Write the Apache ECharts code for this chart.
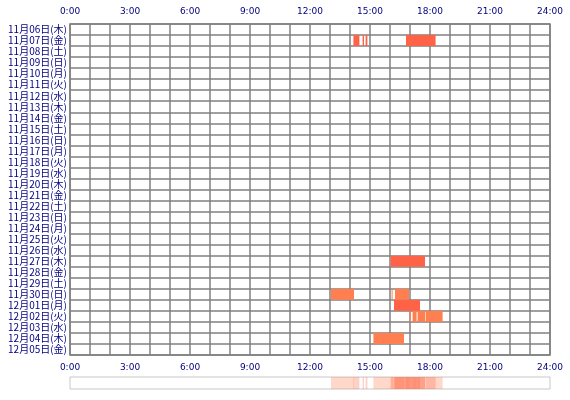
<!DOCTYPE html>
<html><head><meta charset="utf-8">
<script src="https://cdn.jsdelivr.net/npm/echarts@6/dist/echarts.min.js"></script>
<style>html,body{margin:0;padding:0;background:#fff}#c{width:570px;height:400px}</style>
</head><body><div id="c"></div>
<script>
const days = ['11月06日(木)','11月07日(金)','11月08日(土)','11月09日(日)','11月10日(月)','11月11日(火)','11月12日(水)','11月13日(木)','11月14日(金)','11月15日(土)','11月16日(日)','11月17日(月)','11月18日(火)','11月19日(水)','11月20日(木)','11月21日(金)','11月22日(土)','11月23日(日)','11月24日(月)','11月25日(火)','11月26日(水)','11月27日(木)','11月28日(金)','11月29日(土)','11月30日(日)','12月01日(月)','12月02日(火)','12月03日(水)','12月04日(木)','12月05日(金)'];
// [day index, start hour, end hour, colour]
const segments = [
  [1,14.17,14.47,'#ff6347'],[1,14.63,14.70,'#ff6347'],[1,14.78,14.87,'#ff6347'],[1,16.8,18.28,'#ff6347'],
  [21,16.03,17.75,'#ff6347'],
  [24,13.05,14.2,'#ff7f50'],[24,16.08,16.13,'#ff7f50'],[24,16.25,16.95,'#ff7f50'],
  [25,16.2,17.5,'#ff6347'],
  [26,16.97,17.03,'#ff7f50'],[26,17.13,17.33,'#ff7f50'],[26,17.38,17.77,'#ff7f50'],[26,17.8,18.63,'#ff7f50'],
  [28,15.17,16.7,'#ff7f50']
];
const hourLabel = v => Math.round(v) + ':00';

function render(params, api){
  const a = api.coord([api.value(1), api.value(0)]);
  const b = api.coord([api.value(2), api.value(0)]);
  const h = api.size([0,1])[1];
  return {type:'rect', shape:{x:a[0], y:a[1]-h/2, width:b[0]-a[0], height:h},
    style:{fill:api.value(3), opacity: params.seriesIndex === 0 ? 1 : 0.3}};
}

const chart = echarts.init(document.getElementById('c'));
const axisLabel = {color:'#000080', fontSize:9, fontFamily:'DejaVu Sans', formatter:hourLabel};
chart.setOption({
  animation:false,
  grid:[{left:70,right:20,top:24,bottom:45},{left:70,right:20,top:377,bottom:11}],
  xAxis:[
    {gridIndex:0,type:'value',min:0,max:24,interval:3,position:'top',axisLabel:axisLabel,axisLine:{show:false},axisTick:{show:false},splitLine:{show:false}},
    {gridIndex:0,type:'value',min:0,max:24,interval:1,position:'bottom',axisLabel:{...axisLabel,formatter:v=>v%3===0?hourLabel(v):''},axisLine:{show:false},axisTick:{show:false},splitLine:{lineStyle:{color:'#808080',width:1.5}}},
    {gridIndex:1,type:'value',min:0,max:24,show:false}
  ],
  yAxis:[
    {gridIndex:0,type:'category',data:days,inverse:true,axisLabel:{color:'#000080',fontSize:10,fontFamily:'Noto Sans CJK JP',margin:3,interval:0},axisLine:{show:false},axisTick:{show:false},splitLine:{show:true,interval:0,lineStyle:{color:'#808080',width:1.5}}},
    {gridIndex:1,type:'category',data:['all'],show:false}
  ],
  series:[
    {type:'custom',xAxisIndex:0,yAxisIndex:0,renderItem:render,encode:{x:[1,2],y:0},data:segments},
    {type:'custom',xAxisIndex:2,yAxisIndex:1,renderItem:render,encode:{x:[1,2],y:0},data:segments.map(s=>[0,s[1],s[2],s[3]])}
  ],
  graphic:[
    {type:'rect',shape:{x:70,y:377,width:480,height:12},style:{fill:'none',stroke:'#c8c8c8',lineWidth:1}},
    {type:'rect',shape:{x:70,y:24,width:480,height:331},style:{fill:'none',stroke:'#808080',lineWidth:1.5}}
  ]
});
window.addEventListener('resize',()=>chart.resize());
</script></body></html>
